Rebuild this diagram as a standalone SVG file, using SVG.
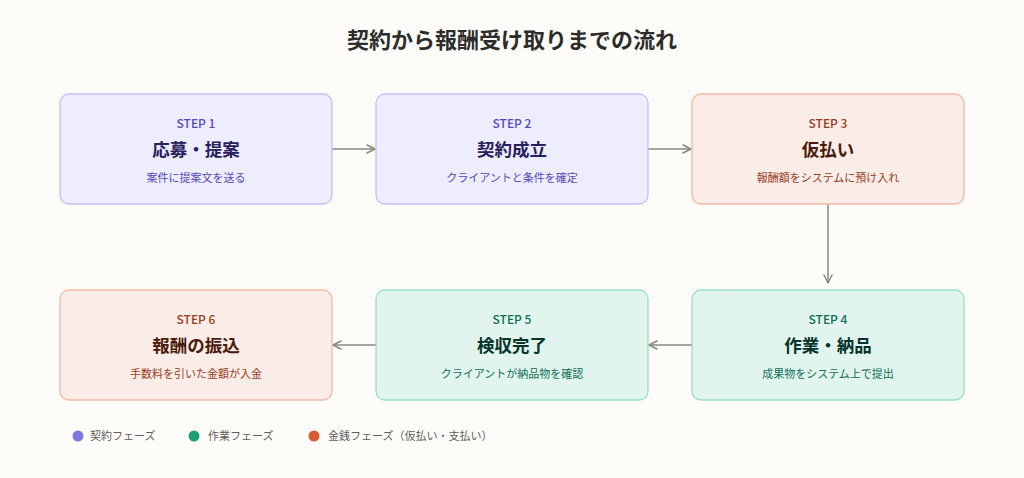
<svg xmlns="http://www.w3.org/2000/svg" width="1024" height="478" viewBox="0 0 1024 478">
<defs>
<style>
text{font-family:"Noto Sans CJK JP","Noto Sans",sans-serif;text-anchor:middle}
.step{font-size:12px;font-weight:500}
.ttl{font-size:17.5px;font-weight:700}
.sub{font-size:11px}
.p rect{fill:#EEEDFE;stroke:#C4BEF5;stroke-width:1.3}
.p .step,.p .sub{fill:#534AB7}.p .ttl{fill:#26215C}
.g rect{fill:#E1F5EE;stroke:#97DDC3;stroke-width:1.3}
.g .step,.g .sub{fill:#0F6E56}.g .ttl{fill:#04342C}
.c rect{fill:#FAECE7;stroke:#F2B9A5;stroke-width:1.3}
.c .step,.c .sub{fill:#993C1D}.c .ttl{fill:#4A1B0C}
.conn line{stroke:#888780;stroke-width:1.5;fill:none}
.leg{font-size:11px;fill:#5F5E5A;text-anchor:start}
</style>
<marker id="ah" viewBox="0 0 10 10" refX="9" refY="5" markerWidth="10" markerHeight="10" markerUnits="userSpaceOnUse" orient="auto">
<path d="M1 1L9 5L1 9" fill="none" stroke="#888780" stroke-width="1.5" stroke-linecap="round" stroke-linejoin="round"/>
</marker>
</defs>
<rect width="1024" height="478" fill="#FDFCF9"/>
<text x="512" y="48" style="font-size:22px;font-weight:700;fill:#2C2C2A">契約から報酬受け取りまでの流れ</text>
<g class="conn">
<line x1="332" y1="149" x2="375" y2="149" marker-end="url(#ah)"/>
<line x1="648" y1="149" x2="691" y2="149" marker-end="url(#ah)"/>
<line x1="828" y1="204" x2="828" y2="283" marker-end="url(#ah)"/>
<line x1="692" y1="345" x2="649" y2="345" marker-end="url(#ah)"/>
<line x1="376" y1="345" x2="333" y2="345" marker-end="url(#ah)"/>
</g>
<g id="step1" class="p"><rect x="60" y="94" width="272" height="110" rx="9"/>
<text class="step" x="196" y="127.5">STEP 1</text><text class="ttl" x="196" y="155.5">応募・提案</text><text class="sub" x="196" y="181.5">案件に提案文を送る</text></g>
<g id="step2" class="p"><rect x="376" y="94" width="272" height="110" rx="9"/>
<text class="step" x="512" y="127.5">STEP 2</text><text class="ttl" x="512" y="155.5">契約成立</text><text class="sub" x="512" y="181.5">クライアントと条件を確定</text></g>
<g id="step3" class="c"><rect x="692" y="94" width="272" height="110" rx="9"/>
<text class="step" x="828" y="127.5">STEP 3</text><text class="ttl" x="828" y="155.5">仮払い</text><text class="sub" x="828" y="181.5">報酬額をシステムに預け入れ</text></g>
<g id="step4" class="g"><rect x="692" y="290" width="272" height="110" rx="9"/>
<text class="step" x="828" y="323.5">STEP 4</text><text class="ttl" x="828" y="351.5">作業・納品</text><text class="sub" x="828" y="377.5">成果物をシステム上で提出</text></g>
<g id="step5" class="g"><rect x="376" y="290" width="272" height="110" rx="9"/>
<text class="step" x="512" y="323.5">STEP 5</text><text class="ttl" x="512" y="351.5">検収完了</text><text class="sub" x="512" y="377.5">クライアントが納品物を確認</text></g>
<g id="step6" class="c"><rect x="60" y="290" width="272" height="110" rx="9"/>
<text class="step" x="196" y="323.5">STEP 6</text><text class="ttl" x="196" y="351.5">報酬の振込</text><text class="sub" x="196" y="377.5">手数料を引いた金額が入金</text></g>
<g id="legend">
<circle cx="78" cy="436" r="5.5" fill="#7F77DD"/><text class="leg" x="90" y="440">契約フェーズ</text>
<circle cx="194" cy="436" r="5.5" fill="#1D9E75"/><text class="leg" x="208" y="440">作業フェーズ</text>
<circle cx="314" cy="436" r="5.5" fill="#D85A30"/><text class="leg" x="328" y="440">金銭フェーズ（仮払い・支払い）</text>
</g>
</svg>
